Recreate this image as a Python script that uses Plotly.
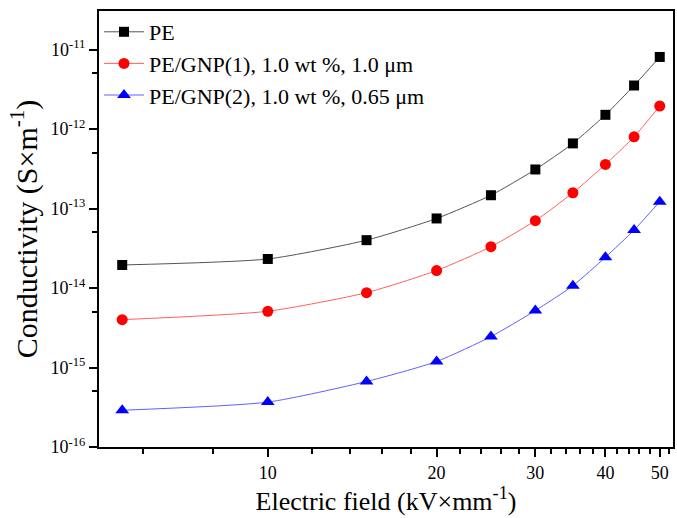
import plotly.graph_objects as go

field = [5.5, 10, 15, 20, 25, 30, 35, 40, 45, 50]
pe = [1.95e-14, 2.32e-14, 4.0e-14, 7.5e-14, 1.47e-13, 3.1e-13, 6.6e-13, 1.51e-12, 3.53e-12, 8.07e-12]
gnp1 = [4.0e-15, 5.1e-15, 8.75e-15, 1.66e-14, 3.31e-14, 7.03e-14, 1.58e-13, 3.59e-13, 7.98e-13, 1.95e-12]
gnp2 = [2.9e-16, 3.67e-16, 6.67e-16, 1.19e-15, 2.45e-15, 5.2e-15, 1.07e-14, 2.44e-14, 5.37e-14, 1.22e-13]

names = ["PE", "PE/GNP(1), 1.0 wt %, 1.0 μm", "PE/GNP(2), 1.0 wt %, 0.65 μm"]
x_ticks = [10, 20, 30, 40, 50]
x_minor = [6, 8, 12, 14, 16, 18, 22, 24, 26, 28, 32, 34, 36, 38, 42, 44, 46, 48, 52]
y_ticks = [1e-16, 1e-15, 1e-14, 1e-13, 1e-12, 1e-11]
y_ticklabels = ["10<sup>-16</sup>", "10<sup>-15</sup>", "10<sup>-14</sup>",
                "10<sup>-13</sup>", "10<sup>-12</sup>", "10<sup>-11</sup>"]
y_minor = [5e-16, 5e-15, 5e-14, 5e-13, 5e-12]

FONT = "Liberation Serif, Times New Roman, serif"

fig = go.Figure()
series = [
    (pe, names[0], "#000000", "#555555", "square", 10),
    (gnp1, names[1], "#ff0000", "#ff6060", "circle", 11),
    (gnp2, names[2], "#0000ff", "#6060ff", "triangle-up", 12),
]
for ys, name, mc, lc, sym, sz in series:
    fig.add_trace(go.Scatter(
        x=field, y=ys, name=name, mode="lines+markers",
        line=dict(color=lc, width=1, shape="spline", smoothing=0.6),
        marker=dict(symbol=sym, size=sz, color=mc, line=dict(width=0)),
    ))

fig.update_layout(
    width=677, height=518,
    margin=dict(l=99, r=2, t=11, b=71),
    paper_bgcolor="white", plot_bgcolor="white",
    font=dict(family=FONT, color="black", size=18),
    showlegend=True,
    legend=dict(x=0.0, y=1.0, xanchor="left", yanchor="top",
                bgcolor="rgba(0,0,0,0)", borderwidth=0,
                font=dict(family=FONT, size=22, color="black"),
                tracegroupgap=0, itemwidth=40),
    xaxis=dict(
        type="log", range=[0.69897, 1.7226],
        tickvals=x_ticks, ticktext=[str(v) for v in x_ticks],
        ticks="outside", ticklen=8, tickwidth=2, tickcolor="black",
        showline=True, linecolor="black", linewidth=2, mirror=True,
        showgrid=False, zeroline=False,
        tickfont=dict(family=FONT, size=18),
        minor=dict(tickvals=x_minor, ticks="outside", ticklen=5, tickwidth=2,
                   tickcolor="black", showgrid=False),
        title=dict(text="Electric field (kV×mm<sup>-1</sup>)",
                   font=dict(family=FONT, size=26), standoff=6),
    ),
    yaxis=dict(
        type="log", range=[-16, -10.515],
        tickvals=y_ticks, ticktext=y_ticklabels,
        ticks="outside", ticklen=8, tickwidth=2, tickcolor="black",
        showline=True, linecolor="black", linewidth=2, mirror=True,
        showgrid=False, zeroline=False,
        tickfont=dict(family=FONT, size=18),
        minor=dict(tickvals=y_minor, ticks="outside", ticklen=5, tickwidth=2,
                   tickcolor="black", showgrid=False),
        title=dict(text="Conductivity (S×m<sup>-1</sup>)",
                   font=dict(family=FONT, size=30), standoff=4),
    ),
)

fig.write_html("out.html")
